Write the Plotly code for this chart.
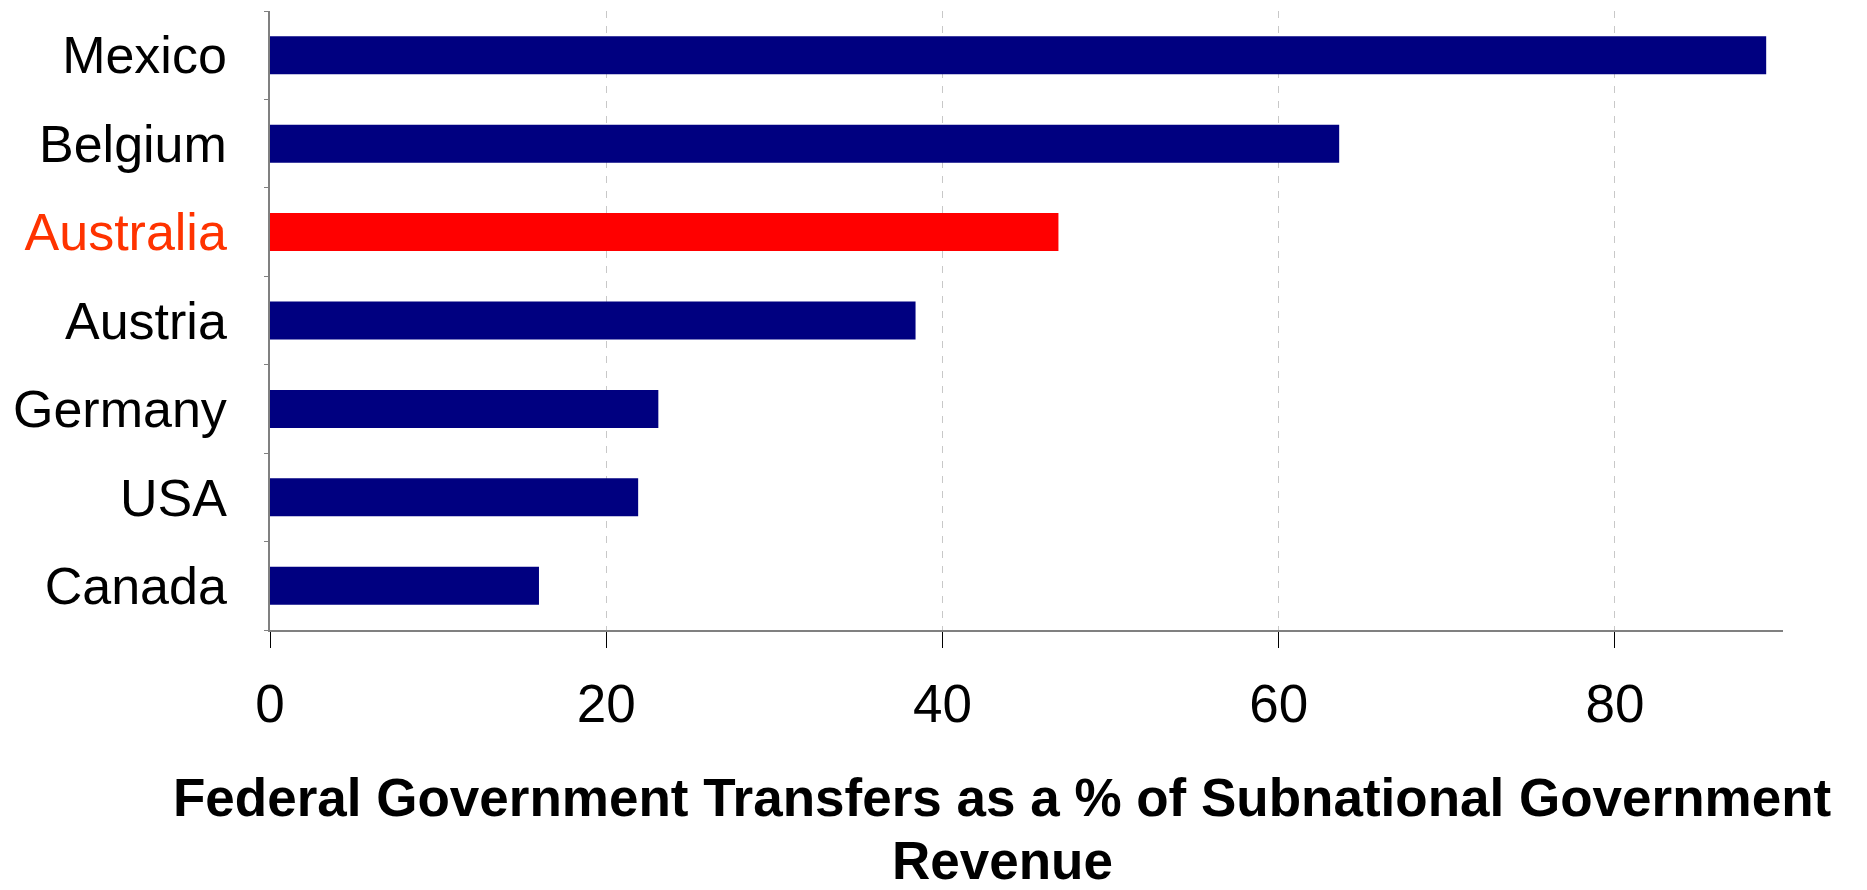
import plotly.graph_objects as go

# Federal transfers as a share of subnational government revenue (%)
countries = ["Mexico", "Belgium", "Australia", "Austria", "Germany", "USA", "Canada"]
transfers_pct = [89.0, 63.6, 46.9, 38.4, 23.1, 21.9, 16.0]
highlight = "Australia"
x_ticks = [0, 20, 40, 60, 80]

NAVY = "#000080"
RED = "#FF0000"
LABEL_RED = "#FF3300"

bar_colors = [RED if c == highlight else NAVY for c in countries]
tick_text = [
    f'<span style="color:{LABEL_RED}">{c}</span>' if c == highlight else c
    for c in countries
]

fig = go.Figure(
    go.Bar(
        x=transfers_pct,
        y=countries,
        orientation="h",
        marker=dict(color=bar_colors, line=dict(width=0)),
        hoverinfo="x+y",
    )
)

W, H = 1867, 890
L, R, T, B = 270, 84, 11, 260

fig.update_layout(
    width=W,
    height=H,
    margin=dict(l=L, r=R, t=T, b=B, pad=0),
    paper_bgcolor="white",
    plot_bgcolor="white",
    bargap=0.57,
    showlegend=False,
    font=dict(family="Liberation Sans, Arial, sans-serif", color="black"),
)

fig.update_xaxes(
    range=[0, 90],
    tickvals=x_ticks,
    ticktext=[str(v) for v in x_ticks],
    tickfont=dict(size=53, color="black"),
    ticks="outside",
    ticklen=16,
    tickwidth=1,
    tickcolor="black",
    showline=True,
    linecolor="#808080",
    linewidth=1.5,
    showgrid=True,
    gridcolor="#C8C8C8",
    gridwidth=1,
    griddash="7px,8px",
    zeroline=False,
    ticklabelstandoff=11,
)

fig.update_yaxes(
    categoryorder="array",
    categoryarray=countries,
    autorange="reversed",
    tickvals=countries,
    ticktext=tick_text,
    tickfont=dict(size=52, color="black"),
    ticks="outside",
    tickson="boundaries",
    ticklen=4,
    tickcolor="#808080",
    showline=True,
    linecolor="#808080",
    linewidth=1.5,
    showgrid=False,
    zeroline=False,
    ticklabelstandoff=31,
)

# Two-line axis caption centred under the plot
cap_x = (1002 - L) / (W - L - R)
plot_h = H - T - B
for text, ypix in [
    ("Federal Government Transfers as a % of Subnational Government", 797),
    ("Revenue", 860),
]:
    fig.add_annotation(
        text=f"<b>{text}</b>",
        xref="paper",
        yref="paper",
        x=cap_x,
        y=(H - B - ypix) / plot_h,
        xanchor="center",
        yanchor="middle",
        showarrow=False,
        borderpad=0,
        font=dict(size=53, color="black", family="Liberation Sans, Arial, sans-serif"),
    )

fig.write_html("out.html")
